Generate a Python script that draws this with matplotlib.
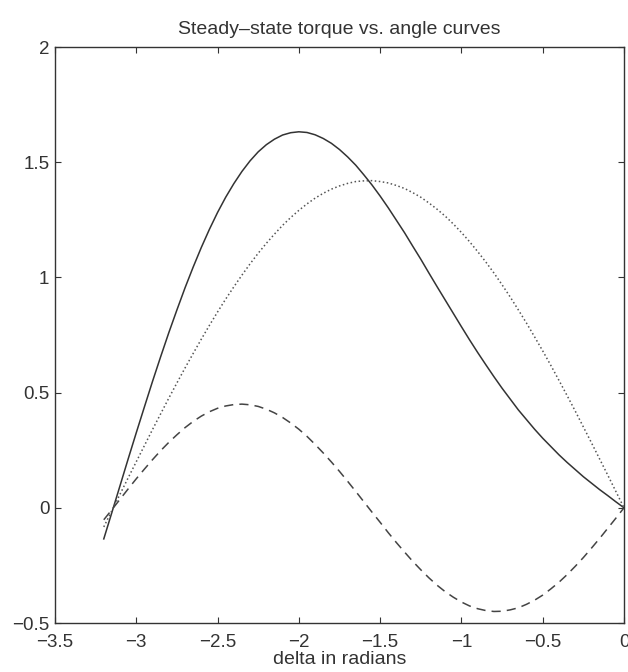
import matplotlib
matplotlib.use('Agg')
import matplotlib.pyplot as plt

# delta (rad) and torque values, every 0.05 rad
delta = [-3.2, -3.15, -3.1, -3.05, -3.0, -2.95, -2.9, -2.85, -2.8, -2.75, -2.7,
         -2.65, -2.6, -2.55, -2.5, -2.45, -2.4, -2.35, -2.3, -2.25, -2.2, -2.15,
         -2.1, -2.05, -2.0, -1.95, -1.9, -1.85, -1.8, -1.75, -1.7, -1.65, -1.6,
         -1.55, -1.5, -1.45, -1.4, -1.35, -1.3, -1.25, -1.2, -1.15, -1.1, -1.05,
         -1.0, -0.95, -0.9, -0.85, -0.8, -0.75, -0.7, -0.65, -0.6, -0.55, -0.5,
         -0.45, -0.4, -0.35, -0.3, -0.25, -0.2, -0.15, -0.1, -0.05, 0.0]

# solid: total torque
total = [-0.135, -0.020, 0.096, 0.212, 0.326, 0.438, 0.549, 0.656, 0.760, 0.859, 0.955,
         1.045, 1.130, 1.209, 1.282, 1.348, 1.407, 1.460, 1.506, 1.545, 1.576, 1.600,
         1.618, 1.628, 1.632, 1.629, 1.619, 1.603, 1.582, 1.555, 1.523, 1.487, 1.445,
         1.401, 1.353, 1.302, 1.248, 1.194, 1.136, 1.079, 1.019, 0.960, 0.902, 0.844,
         0.786, 0.729, 0.674, 0.621, 0.569, 0.519, 0.472, 0.425, 0.383, 0.341, 0.302,
         0.266, 0.230, 0.197, 0.166, 0.135, 0.107, 0.079, 0.053, 0.026, 0.0]

# dotted: excitation torque
excitation = [-0.083, -0.012, 0.059, 0.130, 0.200, 0.270, 0.340, 0.408, 0.476, 0.542, 0.607,
              0.670, 0.732, 0.792, 0.850, 0.906, 0.959, 1.010, 1.059, 1.105, 1.148, 1.188,
              1.226, 1.260, 1.291, 1.319, 1.344, 1.365, 1.383, 1.397, 1.408, 1.416, 1.419,
              1.420, 1.416, 1.410, 1.399, 1.386, 1.368, 1.348, 1.323, 1.296, 1.266, 1.232,
              1.195, 1.155, 1.112, 1.067, 1.019, 0.968, 0.915, 0.859, 0.802, 0.742, 0.681,
              0.618, 0.553, 0.487, 0.420, 0.351, 0.282, 0.212, 0.142, 0.071, 0.0]

# dashed: reluctance torque
reluctance = [-0.052, -0.008, 0.037, 0.082, 0.126, 0.168, 0.209, 0.248, 0.284, 0.317, 0.348,
              0.375, 0.398, 0.417, 0.432, 0.442, 0.448, 0.450, 0.447, 0.440, 0.428, 0.412,
              0.392, 0.368, 0.341, 0.310, 0.275, 0.238, 0.199, 0.158, 0.115, 0.071, 0.026,
              -0.019, -0.063, -0.108, -0.151, -0.192, -0.232, -0.269, -0.304, -0.336, -0.364, -0.388,
              -0.409, -0.426, -0.438, -0.446, -0.450, -0.449, -0.443, -0.434, -0.419, -0.401, -0.379,
              -0.352, -0.323, -0.290, -0.254, -0.216, -0.175, -0.133, -0.089, -0.045, 0.0]

xticks = [-3.5, -3, -2.5, -2, -1.5, -1, -0.5, 0]
xticklabels = ['\u22123.5', '\u22123', '\u22122.5', '\u22122', '\u22121.5', '\u22121', '\u22120.5', '0']
yticks = [-0.5, 0, 0.5, 1, 1.5, 2]
yticklabels = ['\u22120.5', '0', '0.5', '1', '1.5', '2']

plt.rcParams['font.family'] = ['Liberation Sans', 'DejaVu Sans']
ink = '#333333'

fig = plt.figure(figsize=(6.28, 6.72), dpi=100)
ax = fig.add_axes([55/628, 1-623/672, 569/628, 576/672])

ax.plot(delta, total, '-', color=ink, lw=1.1)
ax.plot(delta, excitation, ':', color='#555555', lw=1.1)
ax.plot(delta, reluctance, '--', color='#444444', lw=1.1, dashes=(6, 4))

ax.set_xlim(-3.5, 0)
ax.set_ylim(-0.5, 2)
ax.set_xticks(xticks)
ax.set_xticklabels(xticklabels)
ax.set_yticks(yticks)
ax.set_yticklabels(yticklabels)
ax.tick_params(direction='in', top=True, right=True, length=4, width=0.8,
               labelsize=13.5, colors=ink)
ax.tick_params(axis='x', pad=8)
ax.tick_params(axis='y', pad=4)
for s in ax.spines.values():
    s.set_color(ink)
    s.set_linewidth(1.0)

ax.set_title('Steady\u2013state torque vs. angle curves', fontsize=14, color=ink, pad=9)
ax.set_xlabel('delta in radians', fontsize=14, color=ink, labelpad=0)

fig.savefig('out.png', dpi=100)
plt.close()
